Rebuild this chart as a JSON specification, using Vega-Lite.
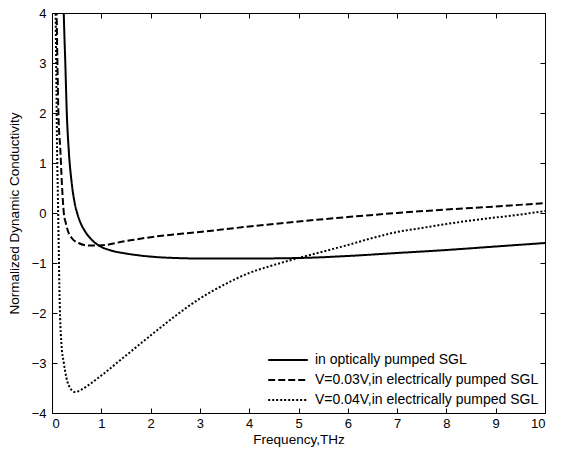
{
  "$schema": "https://vega.github.io/schema/vega-lite/v6.json",
  "width": 493,
  "height": 400,
  "padding": {"left": 52, "top": 13, "right": 18, "bottom": 41},
  "autosize": "none",
  "background": "white",
  "config": {
    "font": "Liberation Sans",
    "view": {"stroke": "black", "strokeWidth": 1},
    "axis": {"domain": false, "grid": false, "ticks": true, "tickSize": 5, "tickWidth": 1, "tickColor": "black", "labelColor": "black", "titleColor": "black", "labelFont": "Liberation Sans", "titleFont": "Liberation Sans", "labelFontSize": 13, "titleFontSize": 13.5, "titleFontWeight": "normal"}
  },
  "data": {"values": [
    {"f":0.23,"v":4.3,"s":"in optically pumped SGL"},
    {"f":0.25,"v":3.6,"s":"in optically pumped SGL"},
    {"f":0.27,"v":3.0,"s":"in optically pumped SGL"},
    {"f":0.3,"v":2.0,"s":"in optically pumped SGL"},
    {"f":0.34,"v":1.25,"s":"in optically pumped SGL"},
    {"f":0.4,"v":0.6,"s":"in optically pumped SGL"},
    {"f":0.46,"v":0.2,"s":"in optically pumped SGL"},
    {"f":0.51,"v":0.0,"s":"in optically pumped SGL"},
    {"f":0.58,"v":-0.2,"s":"in optically pumped SGL"},
    {"f":0.66,"v":-0.35,"s":"in optically pumped SGL"},
    {"f":0.8,"v":-0.53,"s":"in optically pumped SGL"},
    {"f":0.95,"v":-0.65,"s":"in optically pumped SGL"},
    {"f":1.2,"v":-0.75,"s":"in optically pumped SGL"},
    {"f":1.5,"v":-0.81,"s":"in optically pumped SGL"},
    {"f":2.1,"v":-0.88,"s":"in optically pumped SGL"},
    {"f":2.5,"v":-0.9,"s":"in optically pumped SGL"},
    {"f":3,"v":-0.91,"s":"in optically pumped SGL"},
    {"f":4,"v":-0.91,"s":"in optically pumped SGL"},
    {"f":5,"v":-0.9,"s":"in optically pumped SGL"},
    {"f":6,"v":-0.86,"s":"in optically pumped SGL"},
    {"f":7,"v":-0.8,"s":"in optically pumped SGL"},
    {"f":8,"v":-0.74,"s":"in optically pumped SGL"},
    {"f":9,"v":-0.67,"s":"in optically pumped SGL"},
    {"f":10,"v":-0.6,"s":"in optically pumped SGL"},
    {"f":0.09,"v":4.3,"s":"V=0.03V,in electrically pumped SGL"},
    {"f":0.11,"v":3.0,"s":"V=0.03V,in electrically pumped SGL"},
    {"f":0.13,"v":2.0,"s":"V=0.03V,in electrically pumped SGL"},
    {"f":0.17,"v":1.25,"s":"V=0.03V,in electrically pumped SGL"},
    {"f":0.2,"v":0.6,"s":"V=0.03V,in electrically pumped SGL"},
    {"f":0.24,"v":0.0,"s":"V=0.03V,in electrically pumped SGL"},
    {"f":0.28,"v":-0.2,"s":"V=0.03V,in electrically pumped SGL"},
    {"f":0.32,"v":-0.35,"s":"V=0.03V,in electrically pumped SGL"},
    {"f":0.4,"v":-0.5,"s":"V=0.03V,in electrically pumped SGL"},
    {"f":0.54,"v":-0.6,"s":"V=0.03V,in electrically pumped SGL"},
    {"f":0.74,"v":-0.65,"s":"V=0.03V,in electrically pumped SGL"},
    {"f":0.95,"v":-0.65,"s":"V=0.03V,in electrically pumped SGL"},
    {"f":1.5,"v":-0.56,"s":"V=0.03V,in electrically pumped SGL"},
    {"f":2.1,"v":-0.47,"s":"V=0.03V,in electrically pumped SGL"},
    {"f":3,"v":-0.38,"s":"V=0.03V,in electrically pumped SGL"},
    {"f":4,"v":-0.27,"s":"V=0.03V,in electrically pumped SGL"},
    {"f":5,"v":-0.17,"s":"V=0.03V,in electrically pumped SGL"},
    {"f":6,"v":-0.08,"s":"V=0.03V,in electrically pumped SGL"},
    {"f":7,"v":0.0,"s":"V=0.03V,in electrically pumped SGL"},
    {"f":8,"v":0.07,"s":"V=0.03V,in electrically pumped SGL"},
    {"f":9,"v":0.13,"s":"V=0.03V,in electrically pumped SGL"},
    {"f":10,"v":0.2,"s":"V=0.03V,in electrically pumped SGL"},
    {"f":0.07,"v":4.3,"s":"V=0.04V,in electrically pumped SGL"},
    {"f":0.09,"v":2.5,"s":"V=0.04V,in electrically pumped SGL"},
    {"f":0.1,"v":1.5,"s":"V=0.04V,in electrically pumped SGL"},
    {"f":0.12,"v":0.3,"s":"V=0.04V,in electrically pumped SGL"},
    {"f":0.14,"v":-0.9,"s":"V=0.04V,in electrically pumped SGL"},
    {"f":0.15,"v":-1.5,"s":"V=0.04V,in electrically pumped SGL"},
    {"f":0.165,"v":-2.1,"s":"V=0.04V,in electrically pumped SGL"},
    {"f":0.19,"v":-2.6,"s":"V=0.04V,in electrically pumped SGL"},
    {"f":0.24,"v":-3.0,"s":"V=0.04V,in electrically pumped SGL"},
    {"f":0.34,"v":-3.45,"s":"V=0.04V,in electrically pumped SGL"},
    {"f":0.47,"v":-3.58,"s":"V=0.04V,in electrically pumped SGL"},
    {"f":0.6,"v":-3.53,"s":"V=0.04V,in electrically pumped SGL"},
    {"f":0.8,"v":-3.4,"s":"V=0.04V,in electrically pumped SGL"},
    {"f":1.0,"v":-3.25,"s":"V=0.04V,in electrically pumped SGL"},
    {"f":1.5,"v":-2.85,"s":"V=0.04V,in electrically pumped SGL"},
    {"f":2,"v":-2.45,"s":"V=0.04V,in electrically pumped SGL"},
    {"f":2.5,"v":-2.06,"s":"V=0.04V,in electrically pumped SGL"},
    {"f":3,"v":-1.71,"s":"V=0.04V,in electrically pumped SGL"},
    {"f":3.5,"v":-1.43,"s":"V=0.04V,in electrically pumped SGL"},
    {"f":4,"v":-1.2,"s":"V=0.04V,in electrically pumped SGL"},
    {"f":4.5,"v":-1.04,"s":"V=0.04V,in electrically pumped SGL"},
    {"f":5,"v":-0.9,"s":"V=0.04V,in electrically pumped SGL"},
    {"f":5.5,"v":-0.77,"s":"V=0.04V,in electrically pumped SGL"},
    {"f":6,"v":-0.64,"s":"V=0.04V,in electrically pumped SGL"},
    {"f":6.5,"v":-0.5,"s":"V=0.04V,in electrically pumped SGL"},
    {"f":7,"v":-0.38,"s":"V=0.04V,in electrically pumped SGL"},
    {"f":7.5,"v":-0.3,"s":"V=0.04V,in electrically pumped SGL"},
    {"f":8,"v":-0.22,"s":"V=0.04V,in electrically pumped SGL"},
    {"f":8.5,"v":-0.15,"s":"V=0.04V,in electrically pumped SGL"},
    {"f":9,"v":-0.09,"s":"V=0.04V,in electrically pumped SGL"},
    {"f":9.5,"v":-0.03,"s":"V=0.04V,in electrically pumped SGL"},
    {"f":10,"v":0.04,"s":"V=0.04V,in electrically pumped SGL"}
  ]},
  "layer": [
    {
      "mark": {"type": "line", "clip": true, "color": "black", "strokeWidth": 2, "interpolate": "monotone"},
      "encoding": {
        "x": {"field": "f", "type": "quantitative", "scale": {"domain": [0, 10], "nice": false}, "axis": {"title": "Frequency,THz", "values": [0,1,2,3,4,5,6,7,8,9,10], "offset": -5, "labelPadding": 4, "titlePadding": 2}},
        "y": {"field": "v", "type": "quantitative", "scale": {"domain": [-4, 4], "nice": false}, "axis": {"title": "Normalized Dynamic Conductivity", "values": [-4,-3,-2,-1,0,1,2,3,4], "offset": -5, "labelPadding": 6, "titlePadding": 10}},
        "strokeDash": {"field": "s", "type": "nominal",
          "scale": {"domain": ["in optically pumped SGL", "V=0.03V,in electrically pumped SGL", "V=0.04V,in electrically pumped SGL"], "range": [[1, 0], [7, 3], [2, 2]]},
          "legend": {"title": null, "orient": "bottom-right", "offset": 2, "padding": 4, "labelFontSize": 14, "labelFont": "Liberation Sans", "labelColor": "black", "labelLimit": 400, "symbolType": "M-2.2,0H2.2", "symbolSize": 324, "symbolStrokeWidth": 2, "symbolStrokeColor": "black", "symbolFillColor": "transparent", "rowPadding": 3, "labelOffset": 17}}
      }
    },
    {
      "mark": {"type": "point", "opacity": 0},
      "encoding": {
        "x": {"field": "f", "type": "quantitative", "axis": {"orient": "top", "labels": false, "title": null, "offset": -5, "values": [0,1,2,3,4,5,6,7,8,9,10]}},
        "y": {"field": "v", "type": "quantitative", "axis": {"orient": "right", "labels": false, "title": null, "offset": -5, "values": [-4,-3,-2,-1,0,1,2,3,4]}}
      }
    }
  ],
  "resolve": {"axis": {"x": "independent", "y": "independent"}}
}
